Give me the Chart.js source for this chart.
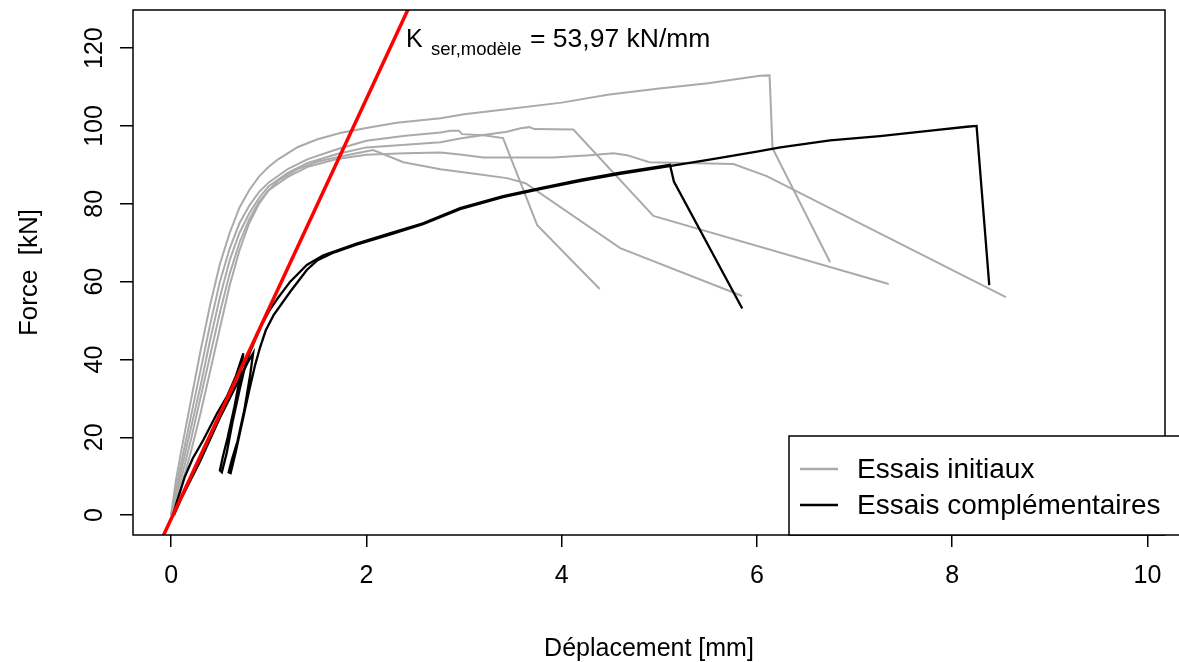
<!DOCTYPE html>
<html>
<head>
<meta charset="utf-8">
<script src="https://cdn.jsdelivr.net/npm/chart.js@4.4.1/dist/chart.umd.min.js"></script>
<style>
  html, body { margin: 0; padding: 0; background: #fff; }
  canvas { display: block; }
</style>
</head>
<body>
<canvas id="chart" width="1179" height="662"></canvas>
<script>
// Force / deplacement - essais initiaux et complementaires

const xTicks = [0, 2, 4, 6, 8, 10];
const yTicks = [0, 20, 40, 60, 80, 100, 120];

// Essais initiaux (gris)
const initA_x = [0, 0.05, 0.1, 0.2, 0.3, 0.4, 0.5, 0.6, 0.7, 0.8, 0.9, 1.0, 1.1, 1.3, 1.5, 1.73, 2.0, 2.31, 2.76, 3.0, 3.37, 4.0, 4.47, 5.0, 5.5, 6.03, 6.13, 6.16, 6.75];
const initA_y = [0, 9, 16, 29, 42, 54, 64.5, 72.5, 79, 83.5, 87, 89.5, 91.5, 94.6, 96.6, 98.2, 99.5, 100.8, 102, 103, 104.1, 106, 108, 109.6, 111, 112.9, 113, 94.3, 65];

const initB_x = [0, 0.1, 0.2, 0.3, 0.4, 0.5, 0.6, 0.7, 0.8, 0.9, 1.0, 1.2, 1.4, 1.7, 2.0, 2.4, 2.76, 2.86, 2.95, 2.98, 3.2, 3.4, 3.75, 4.39];
const initB_y = [0, 13, 25, 37, 49, 60, 68.5, 75, 79.5, 83, 85.5, 89, 91.5, 94, 96.2, 97.5, 98.3, 98.8, 98.8, 97.9, 97.6, 96.9, 74.5, 58.1];

const initC_x = [0, 0.1, 0.2, 0.3, 0.4, 0.5, 0.6, 0.7, 0.8, 0.9, 1.0, 1.2, 1.4, 1.7, 2.0, 2.4, 2.76, 2.96, 3.2, 3.44, 3.58, 3.67, 3.72, 4.12, 4.94, 7.35];
const initC_y = [0, 11, 22, 33, 45, 56, 65.5, 72.5, 77.5, 81.5, 84.5, 88, 90.5, 92.8, 94.5, 95.2, 95.8, 96.8, 97.7, 98.5, 99.4, 99.7, 99.2, 99.1, 76.9, 59.4];

const initD_x = [0, 0.1, 0.2, 0.3, 0.4, 0.5, 0.6, 0.7, 0.8, 0.9, 1.0, 1.2, 1.4, 1.7, 2.0, 2.4, 2.76, 2.96, 3.2, 3.91, 4.29, 4.53, 4.67, 4.9, 5.76, 6.1, 8.55];
const initD_y = [0, 9, 19, 30, 41, 52, 62, 70, 76, 80.5, 83.5, 87, 89.5, 91.5, 92.6, 93, 93.2, 92.7, 91.9, 91.9, 92.5, 93, 92.5, 90.7, 90.2, 87.1, 56];

const initE_x = [0, 0.1, 0.2, 0.3, 0.4, 0.5, 0.6, 0.7, 0.8, 0.9, 1.0, 1.1, 1.3, 1.5, 1.7, 1.9, 2.07, 2.38, 2.76, 3.09, 3.44, 3.63, 4.6, 5.85];
const initE_y = [0, 7, 16, 26, 37, 48, 59, 68, 75, 80, 83.5, 86, 89, 90.8, 92, 93, 93.8, 90.7, 88.9, 87.8, 86.6, 85.3, 68.6, 56.3];

// Essais complementaires (noir), avec cycle de decharge vers 40 kN
const compA_x = [0.02, 0.06, 0.14, 0.22, 0.33, 0.47, 0.57, 0.66, 0.74, 0.71, 0.65, 0.58, 0.53, 0.5, 0.52, 0.57, 0.63, 0.7, 0.76, 0.81, 0.86, 0.93, 1.01, 1.1, 1.22, 1.39, 1.56, 1.9, 2.24, 2.58, 2.96, 3.4, 3.78, 4.2, 4.6, 5.01, 5.11, 5.15, 5.85];
const compA_y = [0, 3.5, 9.8, 14.5, 19.3, 26.1, 30.4, 35.5, 41.6, 36, 28, 20, 15, 11.5, 11, 16, 24, 32, 38.5, 42, 45, 49, 52.7, 56, 60, 64.3, 66.8, 69.8, 72.4, 75, 78.9, 82, 84, 86.2, 88, 89.6, 90, 85.7, 53.1];

const compB_x = [0.03, 0.1, 0.19, 0.3, 0.4, 0.5, 0.6, 0.7, 0.78, 0.84, 0.81, 0.75, 0.68, 0.62, 0.59, 0.61, 0.66, 0.73, 0.8, 0.86, 0.91, 0.97, 1.05, 1.22, 1.39, 1.5, 1.65, 1.9, 2.24, 2.58, 2.96, 3.4, 3.78, 4.2, 4.6, 5.01, 5.5, 6.0, 6.24, 6.75, 7.26, 7.78, 8.15, 8.25, 8.38];
const compB_y = [0, 4, 8.5, 14, 19.5, 25, 30, 35, 39, 41.6, 36, 27, 19, 14, 11, 10.8, 16, 24, 32, 38.5, 43, 47.5, 51.4, 57.4, 63, 65.5, 67.3, 69.5, 72.1, 74.8, 78.6, 81.7, 83.8, 85.9, 87.7, 89.3, 91.3, 93.4, 94.5, 96.3, 97.4, 98.8, 99.8, 100, 59.1];

// Droite K_ser,modele = 53,97 kN/mm
const kserX = [-0.1, 2.5];
const kserY = [-6.4, 133.9];

const xMin = -0.39, xMax = 10.18;
const yMin = -5.1, yMax = 129.8;

const FONT = '"Liberation Sans", Arial, Helvetica, sans-serif';
const GRAY = '#aaaaaa';

function pts(xs, ys) {
    return xs.map((x, i) => ({ x: x, y: ys[i] }));
}

function lineSet(label, xs, ys, color, width) {
    return {
        label: label,
        data: pts(xs, ys),
        showLine: true,
        borderColor: color,
        borderWidth: width,
        pointRadius: 0,
        tension: 0,
        fill: false
    };
}

const rPlotPlugin = {
    id: 'rPlot',
    afterDatasetsDraw(chart) {
        const ctx = chart.ctx;
        const a = chart.chartArea;
        const ys = chart.scales.y;

        ctx.save();
        // box
        ctx.strokeStyle = '#000';
        ctx.lineWidth = 1.5;
        ctx.strokeRect(a.left, a.top, a.right - a.left, a.bottom - a.top);

        // y tick labels, rotated like R
        ctx.fillStyle = '#000';
        ctx.font = '25px ' + FONT;
        ctx.textAlign = 'center';
        ctx.textBaseline = 'middle';
        yTicks.forEach(v => {
            ctx.save();
            ctx.translate(95, ys.getPixelForValue(v));
            ctx.rotate(-Math.PI / 2);
            ctx.fillText(String(v), 0, 0);
            ctx.restore();
        });

        // annotation
        ctx.textAlign = 'left';
        ctx.textBaseline = 'alphabetic';
        ctx.font = '25px ' + FONT;
        ctx.fillText('K', 406, 47);
        ctx.font = '18.5px ' + FONT;
        ctx.fillText('ser,modèle', 431, 55);
        ctx.font = '26.5px ' + FONT;
        ctx.fillText('= 53,97 kN/mm', 530, 47);

        // legend
        const lx = 789, ly = 436;
        ctx.fillStyle = '#fff';
        ctx.fillRect(lx, ly, 1179 - lx + 10, a.bottom - ly);
        ctx.strokeStyle = '#000';
        ctx.lineWidth = 1.5;
        ctx.strokeRect(lx, ly, 1179 - lx + 10, a.bottom - ly);

        ctx.lineWidth = 2.5;
        ctx.strokeStyle = GRAY;
        ctx.beginPath(); ctx.moveTo(800, 469); ctx.lineTo(838, 469); ctx.stroke();
        ctx.strokeStyle = '#000';
        ctx.beginPath(); ctx.moveTo(800, 505); ctx.lineTo(838, 505); ctx.stroke();

        ctx.fillStyle = '#000';
        ctx.font = '28px ' + FONT;
        ctx.textBaseline = 'middle';
        ctx.fillText('Essais initiaux', 857, 470);
        ctx.fillText('Essais complémentaires', 857, 506);
        ctx.restore();
    }
};

const ctx = document.getElementById('chart').getContext('2d');

new Chart(ctx, {
    type: 'scatter',
    data: {
        datasets: [
            lineSet('Kser', kserX, kserY, '#ff0000', 3.5),
            lineSet('Essais complémentaires', compA_x, compA_y, '#000000', 2.3),
            lineSet('Essais complémentaires', compB_x, compB_y, '#000000', 2.3),
            lineSet('Essais initiaux', initA_x, initA_y, GRAY, 2),
            lineSet('Essais initiaux', initB_x, initB_y, GRAY, 2),
            lineSet('Essais initiaux', initC_x, initC_y, GRAY, 2),
            lineSet('Essais initiaux', initD_x, initD_y, GRAY, 2),
            lineSet('Essais initiaux', initE_x, initE_y, GRAY, 2)
        ]
    },
    options: {
        responsive: false,
        animation: false,
        devicePixelRatio: 1,
        layout: {
            padding: { top: 10, right: 14, left: 0, bottom: 0 }
        },
        plugins: {
            legend: { display: false },
            tooltip: { enabled: false }
        },
        scales: {
            x: {
                type: 'linear',
                min: xMin,
                max: xMax,
                afterBuildTicks: s => { s.ticks = xTicks.map(v => ({ value: v })); },
                afterFit: s => { s.height = 127; },
                border: { display: false },
                grid: {
                    drawOnChartArea: false,
                    drawTicks: true,
                    tickLength: 12,
                    color: '#000',
                    lineWidth: 1.5
                },
                ticks: {
                    color: '#000',
                    padding: 14,
                    maxRotation: 0,
                    font: { family: FONT, size: 25 }
                },
                title: {
                    display: true,
                    text: 'Déplacement [mm]',
                    color: '#000',
                    padding: { top: 0, bottom: 0 },
                    font: { family: FONT, size: 25, lineHeight: 1 }
                }
            },
            y: {
                type: 'linear',
                min: yMin,
                max: yMax,
                afterBuildTicks: s => { s.ticks = yTicks.map(v => ({ value: v })); },
                afterFit: s => { s.width = 133; },
                border: { display: false },
                grid: {
                    drawOnChartArea: false,
                    drawTicks: true,
                    tickLength: 13,
                    color: '#000',
                    lineWidth: 1.5
                },
                ticks: { display: false },
                title: {
                    display: true,
                    text: 'Force  [kN]',
                    color: '#000',
                    padding: { top: 17, bottom: 0 },
                    font: { family: FONT, size: 26, lineHeight: 1 }
                }
            }
        }
    },
    plugins: [rPlotPlugin]
});
</script>
</body>
</html>
